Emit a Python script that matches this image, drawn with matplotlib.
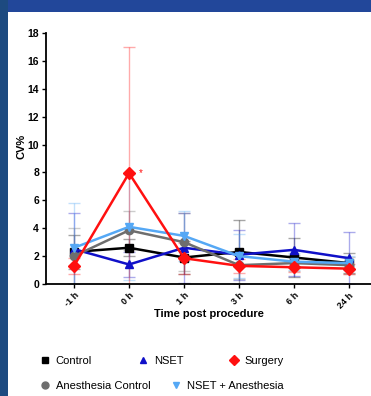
import numpy as np
import matplotlib.pyplot as plt
from matplotlib.patches import Rectangle
from matplotlib.lines import Line2D

plt.rcParams['font.family'] = ['Liberation Sans', 'DejaVu Sans']

time_labels = ['-1 h', '0 h', '1 h', '3 h', '6 h', '24 h']

control = [2.3, 2.6, 1.9, 2.3, 1.9, 1.5]
control_sd = [1.2, 0.6, 1.2, 2.3, 1.4, 0.7]

nset = [2.5, 1.4, 2.6, 2.1, 2.45, 1.85]
nset_sd = [2.6, 0.9, 2.5, 1.8, 1.9, 1.85]

surgery = [1.3, 7.95, 1.85, 1.3, 1.2, 1.1]
surgery_sd = [0.6, 9.05, 1.1, 0.5, 0.35, 0.35]

anes_control = [2.0, 3.85, 3.0, 1.35, 1.5, 1.35]
anes_control_sd = [2.0, 1.4, 2.1, 1.0, 0.6, 0.6]

nset_anes = [2.6, 4.1, 3.45, 2.0, 1.6, 1.5]
nset_anes_sd = [3.2, 3.8, 1.8, 1.6, 0.6, 0.5]

series = [
    ('Control', control, control_sd, 'black', 's'),
    ('NSET', nset, nset_sd, '#1010c8', '^'),
    ('Anesthesia Control', anes_control, anes_control_sd, '#6e6e6e', 'o'),
    ('NSET + Anesthesia', nset_anes, nset_anes_sd, '#55a8f5', 'v'),
    ('Surgery', surgery, surgery_sd, '#ff1010', 'D'),
]

# legend slot (left edge px, row y px) for each entry
legend_slots = {
    'Control': (38, 361),
    'NSET': (136, 361),
    'Surgery': (227, 361),
    'Anesthesia Control': (38, 386),
    'NSET + Anesthesia': (169, 386),
}

fig = plt.figure(figsize=(3.71, 3.96), dpi=100)
fig.patch.set_facecolor('white')

# blue frame around the panel
fig.add_artist(Rectangle((0, 1 - 12 / 396), 1, 12 / 396, transform=fig.transFigure,
                         facecolor='#22479a', edgecolor='none', zorder=-1))
fig.add_artist(Rectangle((0, 0), 8 / 371, 1, transform=fig.transFigure,
                         facecolor='#1d4a80', edgecolor='none', zorder=-1))

ax = fig.add_axes([46 / 371, 1 - 284 / 396, 1 - 46 / 371, (284 - 33) / 396])
x = np.arange(len(time_labels))

for name, vals, sd, color, marker in series:
    ax.errorbar(x, vals, yerr=sd, fmt='none', ecolor=color, alpha=0.35,
                elinewidth=1.0, capsize=4, capthick=1.0, zorder=2)
for name, vals, sd, color, marker in series:
    ax.plot(x, vals, color=color, marker=marker, markersize=6, linewidth=1.8,
            zorder=3, label=name)

ax.text(x[1] + 0.21, surgery[1], '*', color='#ff1010', fontsize=7,
        ha='center', va='center')

ax.set_xlim(-0.51, 5.4)
ax.set_ylim(0, 18)
ax.set_yticks(np.arange(0, 19, 2))
ax.set_xticks(x)
ax.set_xticklabels(time_labels, rotation=45, ha='right', rotation_mode='anchor')
for lbl in ax.get_xticklabels():
    lbl.set_fontweight('bold')
    lbl.set_fontsize(6.5)
for lbl in ax.get_yticklabels():
    lbl.set_fontweight('bold')
    lbl.set_fontsize(7.5)
ax.tick_params(axis='both', length=3, width=1, pad=2)

for s in ['top', 'right']:
    ax.spines[s].set_visible(False)
for s in ['left', 'bottom']:
    ax.spines[s].set_linewidth(1.3)

ax.set_ylabel('CV%', fontsize=8, fontweight='bold')
ax.yaxis.set_label_coords(-0.06, 0.55)
ax.set_xlabel('Time post procedure', fontsize=8, fontweight='bold', labelpad=-1)

for name, vals, sd, color, marker in series:
    px, py = legend_slots[name]
    h = Line2D([], [], color=color, marker=marker, linestyle='none', markersize=5)
    fig.legend([h], [name], frameon=False, fontsize=8, loc='center left',
               bbox_to_anchor=(px / 371, 1 - py / 396), borderpad=0,
               borderaxespad=0, handletextpad=0.4, handlelength=1.2)

fig.savefig('out.png', dpi=100)
